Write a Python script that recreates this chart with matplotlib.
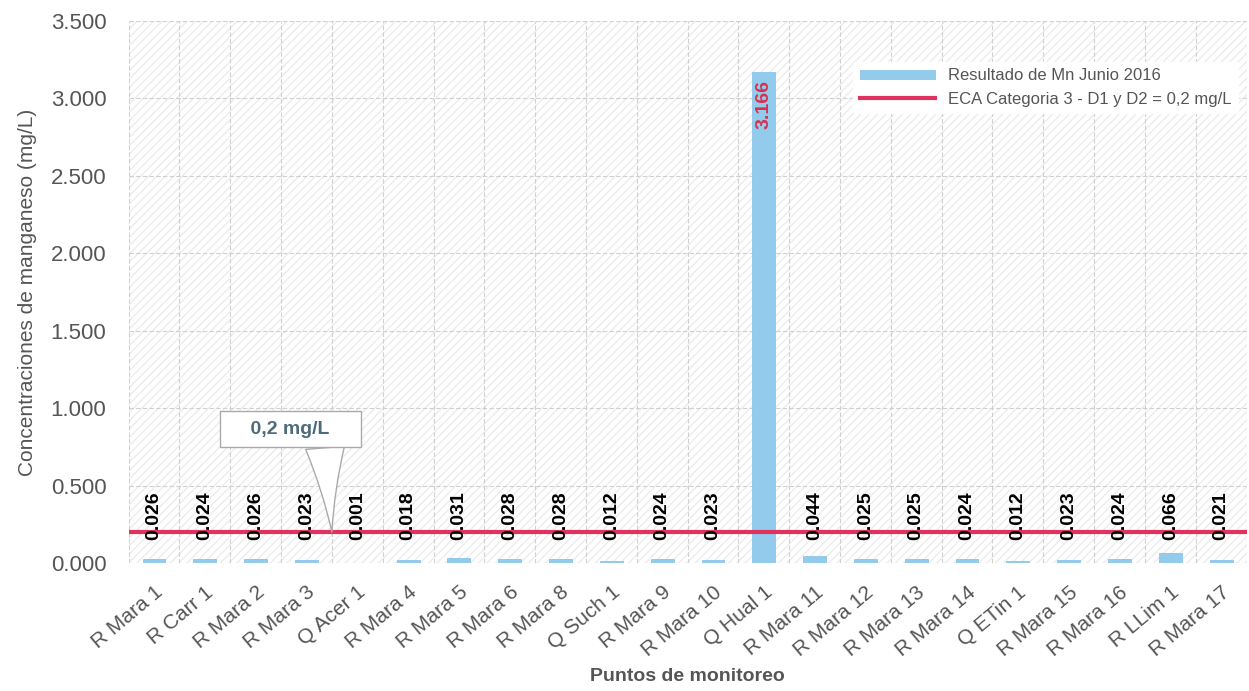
import matplotlib.pyplot as plt
import numpy as np

plt.rcParams["font.family"] = ["Liberation Sans", "DejaVu Sans"]

puntos = ["R Mara 1", "R Carr 1", "R Mara 2", "R Mara 3", "Q Acer 1", "R Mara 4",
          "R Mara 5", "R Mara 6", "R Mara 8", "Q Such 1", "R Mara 9", "R Mara 10",
          "Q Hual 1", "R Mara 11", "R Mara 12", "R Mara 13", "R Mara 14", "Q ETin 1",
          "R Mara 15", "R Mara 16", "R LLim 1", "R Mara 17"]
mn_junio = [0.026, 0.024, 0.026, 0.023, 0.001, 0.018, 0.031, 0.028, 0.028, 0.012, 0.024,
            0.023, 3.166, 0.044, 0.025, 0.025, 0.024, 0.012, 0.023, 0.024, 0.066, 0.021]
eca = 0.2

gris = "#555555"
fig = plt.figure(figsize=(12.49, 6.91), dpi=100)
ax = fig.add_axes([0.103, 0.185, 0.895, 0.785])

x = np.arange(len(puntos))

# fondo rayado suave
ax.add_patch(plt.Rectangle((0, 0), 1, 1, transform=ax.transAxes, facecolor="white",
                           edgecolor="#ececec", hatch="////", linewidth=0, zorder=0))

barras = ax.bar(x, mn_junio, width=0.45, color="#93cbec", edgecolor="#7fbfe6",
                linewidth=0.5, label="Resultado de Mn Junio 2016", zorder=2)
linea, = ax.plot([-0.5, len(puntos) - 0.5], [eca, eca], color="#e0325e", lw=3,
                 label="ECA Categoria 3 - D1 y D2 = 0,2 mg/L", zorder=3)

for i, v in enumerate(mn_junio):
    if v > 1:
        ax.text(i, v - 0.05, f"{v:.3f}", rotation=90, ha="center", va="top",
                color="#d9304f", fontsize=14, fontweight="bold", zorder=4)
    else:
        ax.text(i, 0.15, f"{v:.3f}", rotation=90, ha="center", va="bottom",
                color="black", fontsize=14, fontweight="bold", zorder=4)

# llamada 0,2 mg/L
ax.annotate("    0,2 mg/L    ", xy=(3.5, eca), xytext=(2.68, 0.865), ha="center",
            va="center", fontsize=14, fontweight="bold", color="#4d6b7a",
            bbox=dict(boxstyle="square,pad=0.5", fc="white", ec="#aaaaaa", lw=1),
            arrowprops=dict(arrowstyle="wedge,tail_width=2.0,shrink_factor=0.4",
                            fc="white", ec="#aaaaaa", lw=1, relpos=(0.78, 0.0),
                            shrinkA=0, shrinkB=0),
            zorder=5)

ax.set_xlim(-0.5, len(puntos) - 0.5)
ax.set_ylim(0, 3.5)
ax.set_yticks(np.arange(0, 3.51, 0.5))
ax.set_yticklabels([f"{t:.3f}" for t in np.arange(0, 3.51, 0.5)])
ax.set_xticks(x)
ax.set_xticklabels(puntos, rotation=40, ha="right", rotation_mode="anchor")
ax.tick_params(axis="both", length=0, colors=gris, labelsize=15)
ax.tick_params(axis="y", labelsize=16, pad=16)
ax.tick_params(axis="x", pad=14)

ax.set_xticks(np.arange(-0.5, len(puntos), 1), minor=True)
ax.tick_params(which="minor", length=0)
ax.grid(which="minor", axis="x", color="#d0d0d0", lw=0.8, ls=(0, (4, 2)), zorder=1)
ax.grid(which="major", axis="y", color="#d0d0d0", lw=0.8, ls=(0, (4, 2)), zorder=1)
for s in ax.spines.values():
    s.set_visible(False)

ax.set_ylabel("Concentraciones de manganeso (mg/L)", color=gris, fontsize=15, labelpad=10)
ax.set_xlabel("Puntos de monitoreo", color=gris, fontsize=14, fontweight="bold", labelpad=6)

ax.legend([barras, linea], [barras.get_label(), linea.get_label()],
          loc="upper right", bbox_to_anchor=(1.0, 0.94), frameon=True, framealpha=1,
          edgecolor="white", fontsize=12, labelcolor=gris, handlelength=4.5,
          handleheight=0.5)

fig.savefig("out.png", dpi=100)
